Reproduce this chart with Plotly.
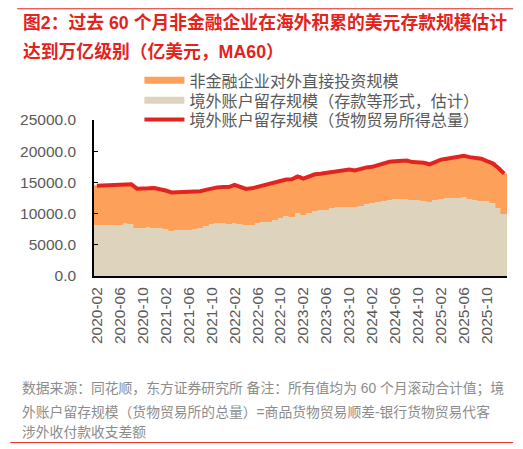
import plotly.graph_objs as go
import pandas as pd

months = pd.date_range("2020-02", periods=72, freq="MS").strftime("%Y-%m").tolist()
tick_months = months[::4][:18]

# 境外账户留存规模（存款等形式，估计）
deposit = [8130, 8130, 8130, 8150, 8200, 8450, 8300, 7650, 7650, 7800, 7700, 7650,
           7500, 7250, 7380, 7400, 7450, 7500, 7750, 7950, 8300, 8550, 8450, 8350,
           8550, 8350, 8150, 8150, 8450, 8700, 8700, 9050, 9350, 9600, 9500, 10150,
           9750, 10050, 10450, 10650, 10650, 10850, 11000, 11100, 11100, 11100, 11250, 11500,
           11650, 11800, 12100, 12150, 12350, 12400, 12400, 12200, 12150, 12100, 11900, 12150,
           12350, 12450, 12450, 12450, 12650, 12300, 12250, 12000, 11950, 11700, 10900, 10000]
# 非金融企业对外直接投资规模
odi = [6320, 6370, 6390, 6400, 6400, 6350, 6400, 6350, 6300, 6250, 6400, 6300,
       6200, 6150, 6070, 6050, 6020, 6000, 5850, 5850, 5750, 5650, 5800, 5900,
       6050, 6000, 5800, 5900, 5850, 5850, 6000, 6000, 6000, 5850, 6000, 5800,
       5850, 5950, 5850, 5750, 5900, 5900, 5850, 5900, 5950, 5800, 5950, 5900,
       5850, 6000, 6000, 6150, 6050, 6050, 6100, 6050, 6050, 6050, 6000, 6150,
       6300, 6350, 6450, 6600, 6600, 6750, 6700, 6800, 6450, 6350, 6400, 6400]
# 境外账户留存规模（货物贸易所得总量）
total = [14450, 14500, 14520, 14550, 14600, 14800, 14700, 14000, 13950, 14050, 14100, 13950,
         13700, 13400, 13450, 13450, 13470, 13500, 13600, 13800, 14050, 14200, 14250, 14250,
         14600, 14350, 13950, 14050, 14300, 14550, 14700, 15050, 15350, 15450, 15500, 15950,
         15600, 16000, 16300, 16400, 16550, 16750, 16850, 17000, 17050, 16900, 17200, 17400,
         17500, 17800, 18100, 18300, 18400, 18450, 18500, 18250, 18200, 18150, 17900, 18300,
         18650, 18800, 18900, 19050, 19250, 19050, 18950, 18800, 18400, 18050, 17300, 16400]

ORANGE = "#fda05a"
BEIGE = "#ded4bd"
RED = "#e3231d"
FONT = "Liberation Sans, Noto Sans CJK SC"

fig = go.Figure()
fig.add_trace(go.Bar(x=months, y=deposit, marker=dict(color=BEIGE, line=dict(width=0.6, color=BEIGE)),
                     showlegend=False, hoverinfo="skip"))
fig.add_trace(go.Bar(x=months, y=odi, marker=dict(color=ORANGE, line=dict(width=0.6, color=ORANGE)),
                     showlegend=False, hoverinfo="skip"))
fig.add_trace(go.Scatter(x=months, y=total, mode="lines", line=dict(color=RED, width=4),
                         showlegend=False))

# legend entries, one legend per row so the rows can be placed like the original
fig.add_trace(go.Scatter(x=[None], y=[None], mode="lines", line=dict(color=ORANGE, width=7),
                         name="非金融企业对外直接投资规模", legend="legend"))
fig.add_trace(go.Scatter(x=[None], y=[None], mode="lines", line=dict(color=BEIGE, width=7),
                         name="境外账户留存规模（存款等形式，估计）", legend="legend2"))
fig.add_trace(go.Scatter(x=[None], y=[None], mode="lines", line=dict(color=RED, width=4),
                         name="境外账户留存规模（货物贸易所得总量）", legend="legend3"))

leg = dict(x=0.110, xanchor="left", yanchor="middle", itemwidth=40,
           font=dict(size=16.1, color="#595959"), bgcolor="rgba(0,0,0,0)")

# page body adds 8px, so the figure is 8px smaller than the window
fig.update_layout(
    width=515, height=441,
    margin=dict(l=84, r=16, t=112, b=173),
    paper_bgcolor="white", plot_bgcolor="white",
    font=dict(family=FONT, color="#595959", size=15),
    barmode="stack", bargap=0,
    showlegend=True,
    legend=dict(leg, y=1.2545),
    legend2=dict(leg, y=1.126),
    legend3=dict(leg, y=1.0026),
    xaxis=dict(type="category", range=[-0.5, 71.5], tickmode="array", tickvals=tick_months,
               ticktext=tick_months, tickangle=-90, showline=True, linecolor="black",
               linewidth=2, ticks="", showgrid=False, ticklabelstandoff=3,
               tickfont=dict(size=15.5, color="#595959")),
    yaxis=dict(range=[0, 25000], dtick=5000, tickformat=".1f", showline=True, linecolor="black",
               linewidth=1.5, ticks="inside", ticklen=4, tickcolor="black", showgrid=False,
               zeroline=False, ticklabelstandoff=13, tickfont=dict(size=15.5, color="#595959")),
)

fig.add_shape(type="line", xref="paper", yref="paper", x0=-0.186, x1=1.015, y0=1.713, y1=1.713,
              line=dict(color=RED, width=1))
fig.add_shape(type="line", xref="paper", yref="paper", x0=-0.2026, x1=1.015, y0=-1.068, y1=-1.068,
              line=dict(color=RED, width=1))

fig.add_annotation(text="<b>图2：过去 60 个月非金融企业在海外积累的美元存款规模估计</b>",
                   xref="paper", yref="paper", x=-0.176, y=1.623, xanchor="left", yanchor="middle",
                   showarrow=False, font=dict(size=17.8, color=RED))
fig.add_annotation(text="<b>达到万亿级别（亿美元，MA60）</b>",
                   xref="paper", yref="paper", x=-0.176, y=1.442, xanchor="left", yanchor="middle",
                   showarrow=False, font=dict(size=17.8, color=RED))

notes = ["数据来源：同花顺，东方证券研究所 备注：所有值均为 60 个月滚动合计值；境",
         "外账户留存规模（货物贸易所的总量）=商品货物贸易顺差-银行货物贸易代客",
         "涉外收付款收支差额"]
note_y = [-0.722, -0.872, -1.004]
for line, yy in zip(notes, note_y):
    fig.add_annotation(text=line, xref="paper", yref="paper", x=-0.178, y=yy,
                       xanchor="left", yanchor="middle", showarrow=False,
                       font=dict(size=13.8, color="#8c8c8c"))

fig.write_html("out.html")
